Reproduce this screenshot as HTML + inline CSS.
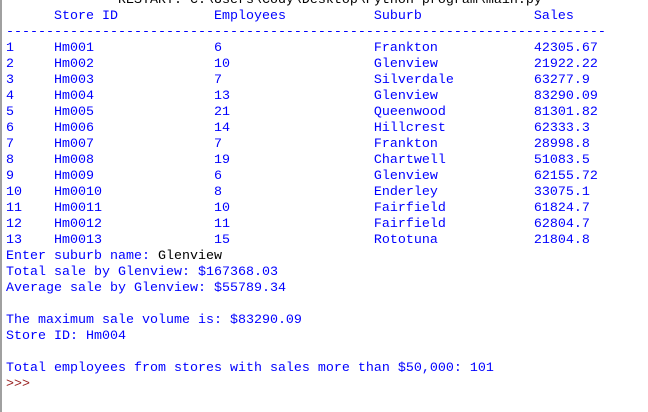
<!DOCTYPE html>
<html><head><meta charset="utf-8"><style>
html,body{margin:0;padding:0;width:648px;height:412px;overflow:hidden;background:#fff}
#shell{position:absolute;left:0;top:0;width:648px;height:412px;border-left:2px solid #a0a0a0;box-sizing:border-box}
pre{position:absolute;left:4px;top:-7px;margin:0;font-family:"Liberation Mono","Courier New",monospace;font-size:13.33px;line-height:16px;color:#0000ff;white-space:pre}
.k{color:#000}.p{color:#992222}
</style></head><body>
<div id="shell">
<pre><span class="k">              RESTART: C:\Users\Cody\Desktop\Python program\main.py</span>
      Store ID            Employees           Suburb              Sales
---------------------------------------------------------------------------
1     Hm001               6                   Frankton            42305.67
2     Hm002               10                  Glenview            21922.22
3     Hm003               7                   Silverdale          63277.9
4     Hm004               13                  Glenview            83290.09
5     Hm005               21                  Queenwood           81301.82
6     Hm006               14                  Hillcrest           62333.3
7     Hm007               7                   Frankton            28998.8
8     Hm008               19                  Chartwell           51083.5
9     Hm009               6                   Glenview            62155.72
10    Hm0010              8                   Enderley            33075.1
11    Hm0011              10                  Fairfield           61824.7
12    Hm0012              11                  Fairfield           62804.7
13    Hm0013              15                  Rototuna            21804.8
Enter suburb name: <span class="k">Glenview</span>
Total sale by Glenview: $167368.03
Average sale by Glenview: $55789.34

The maximum sale volume is: $83290.09
Store ID: Hm004

Total employees from stores with sales more than $50,000: 101
<span class="p">&gt;&gt;&gt;</span></pre>
</div>
</body></html>
